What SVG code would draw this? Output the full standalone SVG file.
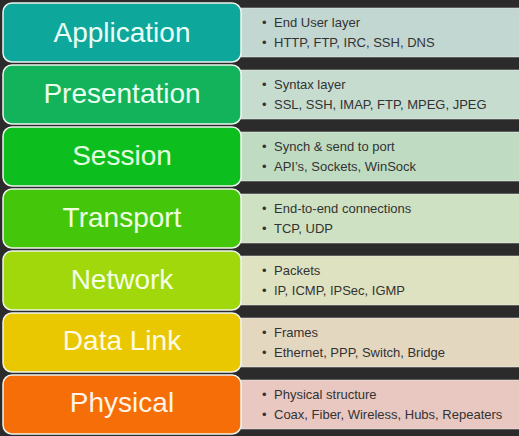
<svg xmlns="http://www.w3.org/2000/svg" width="519" height="436" viewBox="0 0 519 436">
<style>
.box{stroke:#eef5ee;stroke-width:1.5}
.lbl{font-family:"Liberation Sans",Arial,sans-serif;font-size:28px;text-anchor:middle}
.txt{font-family:"Liberation Sans",Arial,sans-serif;font-size:13px;fill:#333333}
.panel{stroke:#f4f4f4;stroke-opacity:0.5;stroke-width:1}
</style>
<rect x="0" y="0" width="519" height="436" fill="#2b2b2b"/>
<g id="application">
<rect class="panel" x="241" y="8" width="290" height="49" fill="#c2d6d2"/>
<rect class="box" x="3" y="3" width="238" height="59" rx="9" fill="#0ea79b"/>
<text class="lbl" x="122" y="42" fill="#eafff8">Application</text>
<text class="txt" x="262" y="27">•</text><text class="txt" x="274" y="27">End User layer</text>
<text class="txt" x="262" y="47">•</text><text class="txt" x="274" y="47">HTTP, FTP, IRC, SSH, DNS</text>
</g>
<g id="presentation">
<rect class="panel" x="241" y="70" width="290" height="49" fill="#c5dccf"/>
<rect class="box" x="3" y="65" width="238" height="59" rx="9" fill="#12b35b"/>
<text class="lbl" x="122" y="103" fill="#eafff0">Presentation</text>
<text class="txt" x="262" y="89">•</text><text class="txt" x="274" y="89">Syntax layer</text>
<text class="txt" x="262" y="109">•</text><text class="txt" x="274" y="109">SSL, SSH, IMAP, FTP, MPEG, JPEG</text>
</g>
<g id="session">
<rect class="panel" x="241" y="132" width="290" height="49" fill="#bfdcc2"/>
<rect class="box" x="3" y="127" width="238" height="59" rx="9" fill="#0cbf1f"/>
<text class="lbl" x="122" y="165" fill="#e4ffe0">Session</text>
<text class="txt" x="262" y="151">•</text><text class="txt" x="274" y="151">Synch &amp; send to port</text>
<text class="txt" x="262" y="171">•</text><text class="txt" x="274" y="171">API’s, Sockets, WinSock</text>
</g>
<g id="transport">
<rect class="panel" x="241" y="194" width="290" height="49" fill="#cee1c2"/>
<rect class="box" x="3" y="189" width="238" height="59" rx="9" fill="#44c60b"/>
<text class="lbl" x="122" y="227" fill="#efffe0">Transport</text>
<text class="txt" x="262" y="213">•</text><text class="txt" x="274" y="213">End-to-end connections</text>
<text class="txt" x="262" y="233">•</text><text class="txt" x="274" y="233">TCP, UDP</text>
</g>
<g id="network">
<rect class="panel" x="241" y="256" width="290" height="49" fill="#dee2c0"/>
<rect class="box" x="3" y="251" width="238" height="59" rx="9" fill="#a0d80b"/>
<text class="lbl" x="122" y="289" fill="#f6ffe6">Network</text>
<text class="txt" x="262" y="275">•</text><text class="txt" x="274" y="275">Packets</text>
<text class="txt" x="262" y="295">•</text><text class="txt" x="274" y="295">IP, ICMP, IPSec, IGMP</text>
</g>
<g id="datalink">
<rect class="panel" x="241" y="318" width="290" height="49" fill="#e4d7c0"/>
<rect class="box" x="3" y="313" width="238" height="59" rx="9" fill="#eac801"/>
<text class="lbl" x="122" y="350" fill="#fffbe4">Data Link</text>
<text class="txt" x="262" y="337">•</text><text class="txt" x="274" y="337">Frames</text>
<text class="txt" x="262" y="357">•</text><text class="txt" x="274" y="357">Ethernet, PPP, Switch, Bridge</text>
</g>
<g id="physical">
<rect class="panel" x="241" y="380" width="290" height="49" fill="#e8c8c0"/>
<rect class="box" x="3" y="375" width="238" height="59" rx="9" fill="#f56e07"/>
<text class="lbl" x="122" y="412" fill="#fff3e8">Physical</text>
<text class="txt" x="262" y="399">•</text><text class="txt" x="274" y="399">Physical structure</text>
<text class="txt" x="262" y="419">•</text><text class="txt" x="274" y="419">Coax, Fiber, Wireless, Hubs, Repeaters</text>
</g>
<g id="connectors"/>
</svg>
